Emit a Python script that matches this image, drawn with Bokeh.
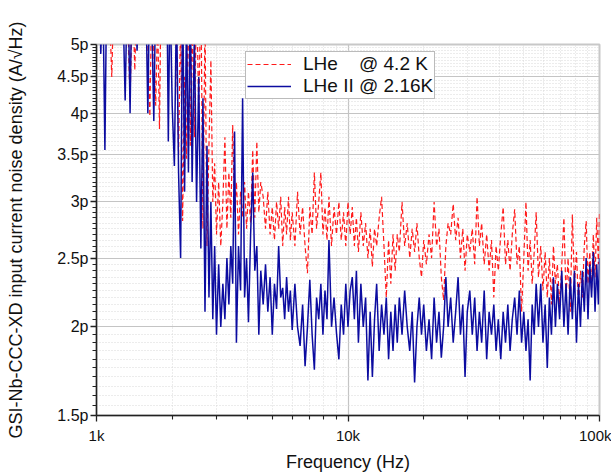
from bokeh.plotting import figure
from bokeh.models import FixedTicker, CustomJSTickFormatter, Legend, LegendItem
from bokeh.embed import file_html
from bokeh.resources import INLINE

# Frequency in kHz
freq_khz = [
    1.00, 1.02, 1.04, 1.06, 1.08, 1.10, 1.12, 1.15, 1.18, 1.21,
    1.24, 1.27, 1.30, 1.33, 1.36, 1.39, 1.42, 1.45, 1.48, 1.51,
    1.54, 1.57, 1.60, 1.63, 1.66, 1.69, 1.72, 1.75, 1.78, 1.81,
    1.84, 1.87, 1.90, 1.93, 1.96, 2.00, 2.04, 2.08, 2.12, 2.16,
    2.20, 2.24, 2.28, 2.32, 2.36, 2.40, 2.45, 2.50, 2.55, 2.60,
    2.65, 2.70, 2.75, 2.80, 2.85, 2.90, 2.95, 3.00, 3.06, 3.12,
    3.18, 3.24, 3.30, 3.36, 3.42, 3.48, 3.54, 3.60, 3.67, 3.74,
    3.81, 3.88, 3.95, 4.02, 4.10, 4.18, 4.26, 4.34, 4.42, 4.50,
    4.60, 4.70, 4.80, 4.90, 5.00, 5.10, 5.20, 5.30, 5.40, 5.50,
    5.60, 5.70, 5.80, 5.90, 6.00, 6.15, 6.30, 6.45, 6.60, 6.75,
    6.90, 7.05, 7.20, 7.35, 7.50, 7.65, 7.80, 7.95, 8.10, 8.25,
    8.40, 8.60, 8.80, 9.00, 9.20, 9.40, 9.60, 9.80, 10.0, 10.2,
    10.4, 10.6, 10.8, 11.0, 11.25, 11.5, 11.75, 12.0, 12.25, 12.5,
    12.75, 13.0, 13.3, 13.6, 13.9, 14.2, 14.5, 14.8, 15.1, 15.4,
    15.7, 16.0, 16.4, 16.8, 17.2, 17.6, 18.0, 18.4, 18.8, 19.2,
    19.6, 20.0, 20.5, 21.0, 21.5, 22.0, 22.5, 23.0, 23.5, 24.0,
    24.5, 25.0, 25.6, 26.2, 26.8, 27.4, 28.0, 28.6, 29.2, 29.8,
    30.5, 31.2, 31.9, 32.6, 33.3, 34.0, 34.8, 35.6, 36.4, 37.2,
    38.0, 38.8, 39.6, 40.5, 41.4, 42.3, 43.2, 44.1, 45.0, 46.0,
    47.0, 48.0, 49.0, 50.0, 51.0, 52.0, 53.0, 54.0, 55.0, 56.0,
    57.2, 58.4, 59.6, 60.8, 62.0, 63.2, 64.4, 65.6, 66.8, 68.0,
    69.4, 70.8, 72.2, 73.6, 75.0, 76.5, 78.0, 79.5, 81.0, 82.5,
    84.0, 85.5, 87.0, 88.5, 90.0, 91.5, 93.0, 94.5, 96.0, 97.5,
    99.0, 100.0,
]

# LHe @ 4.2 K  (pA/sqrt(Hz))
lhe_42k = [
    7.0, 6.5, 7.5, 6.8, 7.2, 6.5, 6.0, 4.5, 6.5, 7.0,
    6.5, 7.0, 6.0, 5.5, 4.15, 6.0, 4.6, 6.2, 7.0, 6.5,
    7.0, 6.0, 5.0, 3.96, 6.0, 4.9, 4.1, 5.5, 3.8, 6.5,
    6.0, 7.0, 6.2, 6.8, 5.6, 6.5, 6.0, 5.0, 3.5, 5.5,
    2.82, 4.5, 3.45, 6.0, 3.6, 5.5, 3.7, 6.0, 4.0, 6.0,
    2.75, 5.5, 2.6, 3.6, 4.75, 3.0, 3.4, 2.7, 3.2, 2.6,
    3.0, 3.7, 2.75, 3.3, 2.85, 3.85, 2.9, 3.2, 2.7, 3.1,
    2.85, 3.2, 2.75, 3.1, 2.8, 3.55, 2.85, 3.65, 2.9, 3.2,
    3.05, 2.75, 3.1, 2.7, 2.95, 2.65, 3.0, 2.75, 3.05, 2.6,
    2.95, 2.7, 3.05, 2.65, 2.9, 2.6, 3.1, 2.7, 2.95, 2.6,
    2.38, 2.95, 2.7, 3.3, 2.75, 3.0, 3.3, 2.7, 2.95, 2.65,
    3.05, 2.6, 2.95, 2.7, 3.0, 2.65, 2.9, 2.6, 3.0, 2.7,
    2.95, 2.6, 2.85, 2.55, 2.9, 2.6, 2.8, 2.5, 2.75, 2.43,
    2.75, 2.6, 2.85, 3.05, 2.6, 2.2, 2.65, 2.3, 2.7, 2.4,
    2.7, 2.55, 3.0, 2.6, 2.8, 2.5, 2.75, 2.55, 2.8, 2.5,
    2.35, 2.65, 2.45, 2.7, 2.5, 3.0, 2.6, 2.75, 2.35, 2.18,
    2.6, 2.8, 2.7, 2.98, 2.65, 2.85, 2.5, 2.75, 2.4, 2.7,
    2.55, 2.75, 2.45, 3.05, 2.6, 2.8, 2.45, 2.7, 2.4, 2.65,
    2.2, 2.6, 2.4, 2.7, 2.95, 2.45, 2.65, 2.4, 2.7, 2.93,
    2.45, 2.6, 2.1, 2.5, 3.0, 2.4, 2.65, 2.3, 2.55, 2.9,
    2.35, 2.6, 2.25, 2.55, 2.2, 2.5, 2.15, 2.6, 2.3, 2.45,
    2.15, 2.45, 2.85, 2.2, 2.5, 2.1, 2.88, 2.3, 2.55, 2.15,
    2.4, 2.2, 2.6, 2.82, 2.3, 2.55, 2.25, 2.7, 2.35, 2.85,
    2.45, 2.9,
]

# LHe II @ 2.16 K  (pA/sqrt(Hz))
lhe2_216k = [
    6.5, 7.0, 4.85, 6.0, 3.55, 6.5, 7.0, 6.2, 6.8, 7.2,
    6.8, 6.0, 4.17, 6.5, 4.0, 7.0, 6.0, 4.9, 6.6, 7.2,
    7.0, 6.0, 4.0, 6.5, 5.4, 3.9, 6.0, 7.0, 6.2, 6.8,
    6.5, 5.6, 6.8, 3.65, 6.0, 4.1, 3.37, 5.8, 3.3, 2.5,
    6.0, 3.1, 5.5, 3.3, 6.0, 3.2, 5.2, 3.0, 4.5, 2.58,
    4.2, 2.1, 3.6, 2.2, 3.0, 2.05, 2.6, 1.95, 2.45, 2.0,
    2.3, 2.05, 2.5, 2.15, 2.6, 2.3, 3.77, 1.9, 2.6, 2.25,
    4.2, 2.2, 2.5, 2.03, 2.7, 3.3, 2.4, 2.6, 1.95, 2.4,
    2.15, 2.45, 2.1, 2.35, 1.95, 2.3, 2.12, 2.6, 2.2, 2.27,
    2.05, 2.35, 2.1, 2.25, 1.98, 2.3, 2.0, 1.88, 2.15, 1.76,
    2.0, 2.33, 1.95, 1.74, 2.2, 2.05, 2.3, 1.95, 2.25, 2.05,
    2.65, 2.0, 2.2, 1.96, 1.8, 2.15, 1.95, 2.3, 2.0, 2.25,
    2.35, 2.05, 2.4, 1.9, 2.3, 2.0, 2.2, 1.68, 2.1, 1.7,
    2.05, 2.3, 1.85, 2.15, 1.95, 2.2, 1.8, 2.1, 1.85, 2.15,
    1.9, 2.2, 1.95, 2.25, 2.0, 1.85, 2.1, 1.67, 2.0, 2.2,
    1.95, 2.15, 1.85, 2.05, 1.8, 2.2, 1.9, 2.1, 1.81, 2.0,
    2.35, 2.0, 2.2, 1.9, 2.1, 2.35, 1.95, 2.15, 1.7, 2.1,
    2.25, 1.95, 2.2, 1.85, 2.1, 1.9, 2.25, 1.8, 2.1, 1.95,
    2.15, 1.85, 2.05, 1.8, 2.1, 1.9, 2.15, 1.85, 2.05, 2.2,
    1.95, 2.25, 1.9, 2.1, 1.85, 2.05, 1.68, 2.15, 1.95, 2.3,
    2.0, 2.3, 1.9, 2.15, 1.75, 2.2, 1.95, 2.35, 2.0, 2.3,
    2.05, 2.4, 2.0, 2.3, 1.95, 2.35, 2.05, 2.4, 1.9, 2.3,
    2.0, 2.4, 2.1, 2.5, 2.05, 2.45, 2.2, 2.55, 2.1, 2.45,
    2.15, 2.5,
]

assert len(freq_khz) == len(lhe_42k) == len(lhe2_216k), (len(freq_khz), len(lhe_42k), len(lhe2_216k))

y_major = [1.5, 2.0, 2.5, 3.0, 3.5, 4.0, 4.5, 5.0]
y_minor = [round(1.5 + 0.05 * i, 2) for i in range(1, 70) if i % 10 != 0]
x_major = [1, 10, 100]
x_minor = [m * d for d in (1, 10) for m in range(2, 10)]

FONT = "Liberation Sans"

p = figure(frame_width=503, frame_height=371, x_axis_type="log", y_axis_type="log",
           x_range=(1, 100), y_range=(1.5, 5),
           output_backend="svg", toolbar_location=None,
           min_border_left=96, min_border_right=12, min_border_top=44, min_border_bottom=57,
           background_fill_color="white", border_fill_color="white")

p.outline_line_color = "#c8c8c8"
p.outline_line_width = 2

r_red = p.line(freq_khz, lhe_42k, line_color="#ff1a1a", line_width=1.2, line_dash="5 3")
r_blue = p.line(freq_khz, lhe2_216k, line_color="#0c0ca0", line_width=1.5)

p.xaxis.ticker = FixedTicker(ticks=x_major, minor_ticks=x_minor)
p.yaxis.ticker = FixedTicker(ticks=y_major, minor_ticks=y_minor)
p.xaxis.formatter = CustomJSTickFormatter(code="return tick + 'k';")
p.yaxis.formatter = CustomJSTickFormatter(code="return tick + 'p';")

for ax in (p.xaxis[0], p.yaxis[0]):
    ax.axis_line_color = "#222222"
    ax.axis_line_width = 1.5
    ax.major_tick_line_color = "#222222"
    ax.minor_tick_line_color = "#222222"
    ax.major_tick_line_width = 1.3
    ax.minor_tick_line_width = 1.1
    ax.major_tick_in = 0
    ax.major_tick_out = 6
    ax.minor_tick_in = 0
    ax.minor_tick_out = 4
    ax.major_label_text_font = FONT
    ax.major_label_text_color = "#111111"
    ax.axis_label_text_font = FONT
    ax.axis_label_text_font_size = "18px"
    ax.axis_label_text_font_style = "normal"
    ax.axis_label_text_color = "#111111"

p.xaxis.major_label_text_font_size = "15px"
p.yaxis.major_label_text_font_size = "16px"
p.xaxis.axis_label = "Frequency (Hz)"
p.yaxis.axis_label = "GSI-Nb-CCC-XD input current noise density (A/\u221aHz)"
p.xaxis.major_label_standoff = 5
p.xaxis.axis_label_standoff = 5
p.yaxis.major_label_standoff = 2
p.yaxis.axis_label_standoff = 28

for g in (p.xgrid[0], p.ygrid[0]):
    g.grid_line_color = "#c4c4c4"
    g.grid_line_width = 1.2
    g.minor_grid_line_color = "#d8d8d8"
    g.minor_grid_line_dash = "1 2"
    g.minor_grid_line_width = 1

legend = Legend(items=[LegendItem(label="LHe    @ 4.2 K", renderers=[r_red]),
                       LegendItem(label="LHe II @ 2.16K", renderers=[r_blue])],
                location=(149, 316))
legend.label_text_font = FONT
legend.label_text_font_size = "19px"
legend.label_text_color = "#111111"
legend.glyph_width = 44
legend.glyph_height = 20
legend.label_height = 20
legend.label_standoff = 12
legend.spacing = 0
legend.padding = 1
legend.margin = 0
legend.border_line_color = "#777777"
legend.border_line_width = 1.2
legend.background_fill_color = "white"
legend.background_fill_alpha = 1.0
p.add_layout(legend)

open("out.html", "w").write(file_html(p, INLINE))
